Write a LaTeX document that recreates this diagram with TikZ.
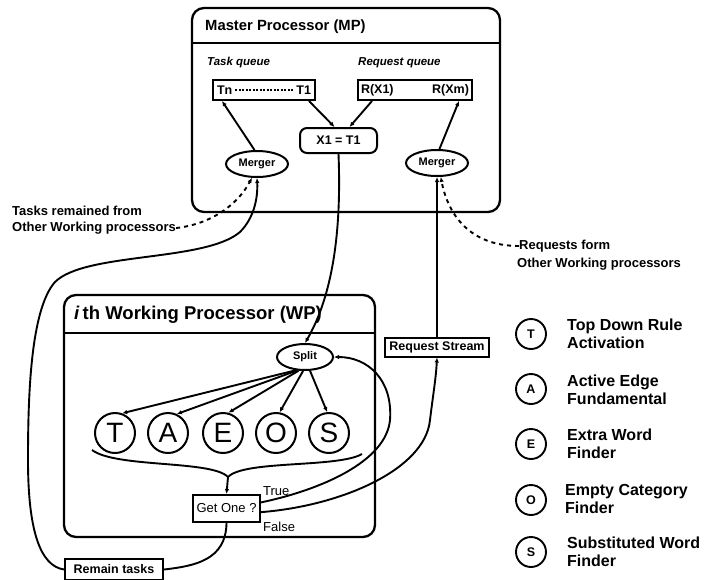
\documentclass[tikz,border=0pt]{standalone}
\usepackage{fontspec}
\setmainfont{Liberation Sans}
\usetikzlibrary{arrows.meta,shapes.geometric,calc}

\newcommand{\fs}[1]{\fontsize{#1}{#1}\selectfont}

\tikzset{
  frame/.style={draw, line width=2.3pt, rounded corners=12pt},
  qbox/.style={draw, line width=2pt, minimum height=20pt, inner sep=1pt, font=\bfseries\fs{12.5}},
  merge/.style={ellipse, draw, line width=2pt, minimum width=62pt, minimum height=26pt, inner sep=0pt, font=\bfseries\fs{11}},
  wire/.style={line width=1.9pt},
  tip/.style={-{Latex[length=5pt,width=4.5pt]}},
  dashwire/.style={wire, dash pattern=on 4pt off 4pt},
  lbl/.style={anchor=west, inner sep=0pt, font=\bfseries\fs{13}},
  task/.style={circle, draw, line width=2pt, minimum size=40pt, inner sep=0pt, font=\fs{28}},
  key/.style={circle, draw, line width=1.9pt, minimum size=30pt, inner sep=0pt, font=\bfseries\fs{12.5}},
  keytext/.style={anchor=west, align=left, inner sep=0pt, font=\bfseries\fontsize{16}{18}\selectfont}
}

\begin{document}
\begin{tikzpicture}[x=1pt, y=-1pt]
\useasboundingbox (0,0) rectangle (715,579);

% ---------------- Master processor ----------------
\draw[frame] (192,8) rectangle (500,212);
\draw[line width=2.3pt] (192,43) -- (500,43);
\node[lbl, font=\bfseries\fs{14.8}] (mptitle) at (205,27) {Master Processor (MP)};

\node[lbl, font=\bfseries\itshape\fs{11.5}] (tql) at (207,63) {Task queue};
\node[lbl, font=\bfseries\itshape\fs{11.5}] (rql) at (358,63) {Request queue};

\node[qbox, minimum width=102pt] (tq) at (264,90)
  {\makebox[94pt]{Tn\,\leaders\hbox to 3.5pt{\hss\rule[0.3em]{2pt}{1.2pt}\hss}\hfill T1}};
\node[qbox, minimum width=114pt] (rq) at (415,90)
  {\makebox[108pt]{R(X1)\hfill R(Xm)}};

\node[draw, line width=2pt, rounded corners=7pt, minimum width=77pt, minimum height=25pt,
      inner sep=0pt, font=\bfseries\fs{12.5}] (x1) at (338.5,140.5) {X1 = T1};

\node[merge] (lm) at (257,164) {Merger};
\node[merge] (rm) at (437,163) {Merger};

\draw[wire,tip] (lm.100) -- ($(tq.south west)+(10,0)$);
\draw[wire,tip] ($(tq.south east)+(-7,0)$) -- ($(x1.north)+(-4,0)$);
\draw[wire,tip] ($(rq.south west)+(15,0)$) -- ($(x1.north)+(11,0)$);
\draw[wire,tip] (rm.80) -- ($(rq.south east)+(-14,0)$);

% ---------------- inputs from other processors ----------------
\node[lbl] (trf) at (12,211) {Tasks remained from};
\node[lbl] (owpl) at (12,228) {Other Working processors};
\draw[dashwire,tip] (owpl.east) .. controls (212,224) and (238,204) .. (lm.250);

\node[lbl] (rf) at (519,246) {Requests form};
\node[lbl] (owpr) at (517,264) {Other Working processors};
\draw[dashwire,tip] (rf.west) .. controls (470,246) and (448,215) .. (rm.285);

% ---------------- Working processor ----------------
\draw[frame] (64,295) rectangle (375,537);
\draw[line width=2.3pt] (64,333) -- (375,333);
\node[lbl, font=\bfseries\fs{18.5}] (wptitle) at (74,315) {\textit{i}\,th Working Processor (WP)};

\node[merge, minimum width=56pt] (sp) at (305,357) {Split};

\node[qbox, minimum width=104pt, minimum height=19pt, font=\bfseries\fs{12.5}] (rs) at (437,347) {Request Stream};

\node[task] (tT) at (115,433) {T};
\node[task] (tA) at (168,433) {A};
\node[task] (tE) at (223,433) {E};
\node[task] (tO) at (276,433) {O};
\node[task] (tS) at (329,433) {S};

\draw[wire,tip] (sp.235) -- (tT.70);
\draw[wire,tip] (sp.240) -- (tA.65);
\draw[wire,tip] (sp.245) -- (tE.75);
\draw[wire,tip] (sp.262) -- (tO.80);
\draw[wire,tip] (sp.290) -- (tS.95);

% brace collecting the results
\coordinate (btip) at (228,477);
\draw[wire] (92,450) .. controls (116,468) and (212,460) .. (btip)
            .. controls (244,460) and (338,468) .. (362,454);

\node[draw, line width=2pt, minimum width=67pt, minimum height=27pt, inner sep=0pt,
      font=\fs{13}] (g) at (226.5,508.5) {Get One ?};
\draw[wire,tip] (btip) -- (g.north);

\node[anchor=west, inner sep=0pt, font=\fs{13}] (tru) at (263,491) {True};
\node[anchor=west, inner sep=0pt, font=\fs{13}] (fal) at (263,527) {False};

\node[draw, line width=2pt, minimum width=98pt, minimum height=21pt, inner sep=0pt,
      font=\bfseries\fs{12.5}] (rt) at (114,569.5) {Remain tasks};

% ---------------- connectors between the processors ----------------
\draw[wire,tip] (x1.south) .. controls (342,240) and (330,300) .. (sp.north);
\draw[wire,tip] (rs.north) -- (rm.south);

\draw[wire,tip] (g.10) .. controls (320,490) and (386,462) .. (390,420)
                 .. controls (393,380) and (368,357) .. (sp.east);
\draw[wire,tip] (g.-6) .. controls (340,506) and (425,470) .. (430,420)
                 .. controls (433,395) and (436,378) .. (rs.south);

\draw[wire] (g.south) .. controls (226,560) and (195,566) .. (rt.east);

\draw[wire,tip] (rt.west) .. controls (40,566) and (28,530) .. (28,460)
                 .. controls (28,400) and (30,310) .. (55,282)
                 .. controls (85,252) and (205,262) .. (240,232)
                 .. controls (254,218) and (258,198) .. (lm.south);

% ---------------- key ----------------
\node[key] (kT) at (531,334) {T};
\node[keytext] (kTt) at (567,334) {Top Down Rule\\Activation};
\node[key] (kA) at (531,389) {A};
\node[keytext] (kAt) at (567,390) {Active Edge\\Fundamental};
\node[key] (kE) at (531,444) {E};
\node[keytext] (kEt) at (567,444) {Extra Word\\Finder};
\node[key] (kO) at (531,500) {O};
\node[keytext] (kOt) at (565,499) {Empty Category\\Finder};
\node[key] (kS) at (531,552) {S};
\node[keytext] (kSt) at (567,552) {Substituted Word\\Finder};
\end{tikzpicture}
\end{document}
